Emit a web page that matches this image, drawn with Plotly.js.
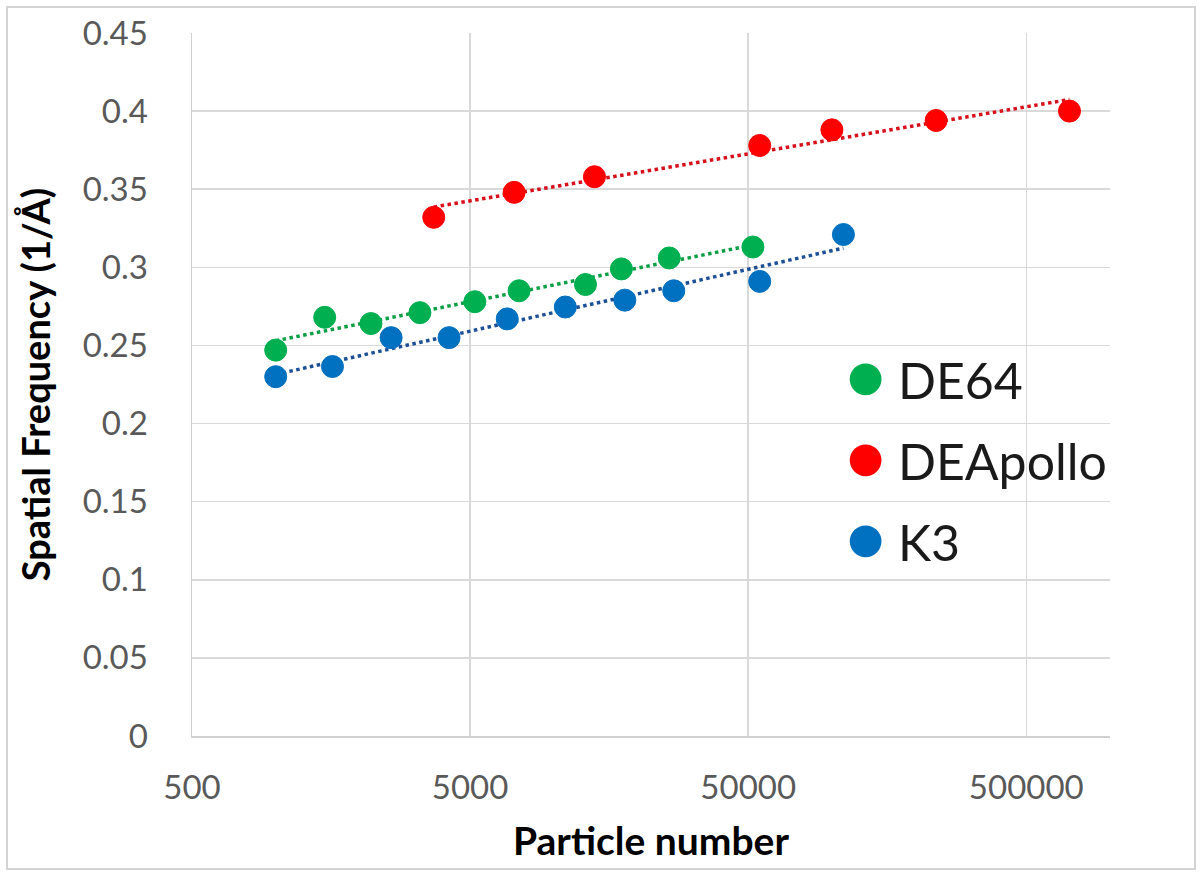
<!DOCTYPE html>
<html>
<head>
<meta charset="utf-8">
<script src="https://cdn.plot.ly/plotly-3.0.1.min.js"></script>
<style>
  body { margin: 0; background: #fff; }
  #wrap { position: relative; width: 1200px; height: 875px; }
  #chart { position: absolute; left: 0; top: 0; width: 1200px; height: 875px; }
  #frame { position: absolute; left: 6px; top: 6px; width: 1186px; height: 860px;
           border: 2px solid #d4d4d4; pointer-events: none; }
</style>
</head>
<body>
<div id="wrap">
  <div id="chart"></div>
  <div id="frame"></div>
</div>
<script>
// values
const de64X = [1000, 1500, 2200, 3300, 5200, 7500, 13000, 17500, 26000, 52000];
const de64Y = [0.247, 0.268, 0.264, 0.271, 0.278, 0.285, 0.289, 0.299, 0.306, 0.313];

const apolloX = [3700, 7200, 14000, 55000, 100000, 237000, 715000];
const apolloY = [0.332, 0.348, 0.358, 0.378, 0.388, 0.394, 0.400];

const k3X = [1000, 1600, 2600, 4200, 6800, 11000, 18000, 27000, 55000, 110000];
const k3Y = [0.230, 0.2365, 0.255, 0.255, 0.267, 0.2746, 0.279, 0.285, 0.291, 0.321];

const seriesNames = ["DE64", "DEApollo", "K3"];
const xTicks = [500, 5000, 50000, 500000];
const yTicks = [0, 0.05, 0.1, 0.15, 0.2, 0.25, 0.3, 0.35, 0.4, 0.45];
const yTickText = ["0", "0.05", "0.1", "0.15", "0.2", "0.25", "0.3", "0.35", "0.4", "0.45"];

const GREEN = "#00b050", RED = "#ff0000", BLUE = "#0070c0";
const FONT = "Lato, 'Open Sans', sans-serif";

// logarithmic trendline (y = a*ln(x) + b), like the spreadsheet one
function logFit(xs, ys) {
  const lx = xs.map(x => Math.log(x));
  const n = xs.length;
  const mx = lx.reduce((s, v) => s + v, 0) / n;
  const my = ys.reduce((s, v) => s + v, 0) / n;
  let sxy = 0, sxx = 0;
  lx.forEach((v, i) => { sxy += (v - mx) * (ys[i] - my); sxx += (v - mx) * (v - mx); });
  const a = sxy / sxx, b = my - a * mx;
  const x0 = Math.min(...xs), x1 = Math.max(...xs);
  return {x: [x0, x1], y: [a * Math.log(x0) + b, a * Math.log(x1) + b]};
}

function trend(xs, ys, color) {
  const t = logFit(xs, ys);
  return {
    x: t.x, y: t.y, mode: "lines", type: "scatter", showlegend: false, hoverinfo: "skip",
    line: {color: color, width: 3.5, dash: "dot"}
  };
}

function points(xs, ys, name, color) {
  return {
    x: xs, y: ys, name: name, showlegend: false, mode: "markers", type: "scatter",
    marker: {color: color, size: 22, line: {color: color, width: 1}}
  };
}

// legend entries: plotly caps legend symbols at 16px, the original ones are ~33px,
// so the dot is drawn as a coloured glyph and the native symbol is hidden
function legendEntry(name, color) {
  return {
    x: [null], y: [null], mode: "markers", type: "scatter", legendgroup: name,
    name: '<span style="color:' + color + ';font-size:65px">●</span> ' + name,
    marker: {opacity: 0, size: 1, color: "rgba(0,0,0,0)", line: {width: 0}}, hoverinfo: "skip"
  };
}

function draw() {
  const data = [
    trend(de64X, de64Y, "#0a9e45"),
    trend(apolloX, apolloY, "#d8101c"),
    trend(k3X, k3Y, "#1c4f96"),
    points(de64X, de64Y, seriesNames[0], GREEN),
    points(apolloX, apolloY, seriesNames[1], RED),
    points(k3X, k3Y, seriesNames[2], BLUE),
    legendEntry(seriesNames[0], GREEN),
    legendEntry(seriesNames[1], RED),
    legendEntry(seriesNames[2], BLUE)
  ];

  const layout = {
    width: 1200, height: 875,
    margin: {l: 192, r: 90, t: 33, b: 139},
    paper_bgcolor: "#fff", plot_bgcolor: "#fff",
    font: {family: FONT, color: "#595959"},
    xaxis: {
      type: "log",
      range: [Math.log10(500), 6],
      tickvals: xTicks, ticktext: xTicks.map(String),
      tickfont: {size: 33, color: "#595959"},
      showgrid: true, gridcolor: "#d9d9d9", gridwidth: 1.5,
      showline: true, linecolor: "#d0d0d0", linewidth: 1.5,
      ticks: "", ticklabelstandoff: 22,
      zeroline: false,
      title: {text: "Particle number", font: {family: FONT, size: 39, color: "#000", weight: "bold"}, standoff: 22}
    },
    yaxis: {
      range: [0, 0.45],
      tickvals: yTicks, ticktext: yTickText,
      tickfont: {size: 33, color: "#595959"},
      showgrid: true, gridcolor: "#d9d9d9", gridwidth: 1.5,
      showline: true, linecolor: "#d0d0d0", linewidth: 1.5,
      ticks: "", ticklabelstandoff: 36,
      zeroline: false,
      title: {text: "Spatial Frequency (1/Å)", font: {family: FONT, size: 38, color: "#000", weight: "bold"}, standoff: 20}
    },
    legend: {
      x: 0.669, y: 0.563, xanchor: "left", yanchor: "top",
      font: {family: FONT, size: 50, color: "#1a1a1a"},
      bgcolor: "rgba(0,0,0,0)",
      traceorder: "grouped", tracegroupgap: 13
    },
    showlegend: true
  };

  Plotly.newPlot("chart", data, layout, {staticPlot: true});
}

try {
  draw();
} catch (err) {
  console.error(err);
}
</script>
</body>
</html>
